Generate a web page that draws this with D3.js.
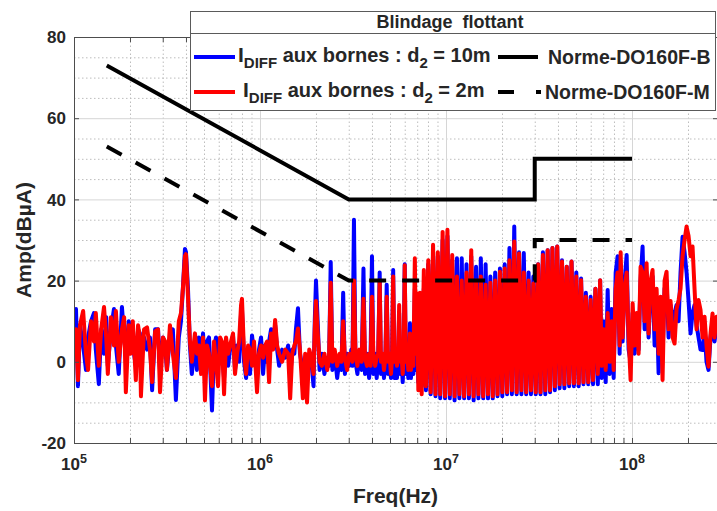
<!DOCTYPE html>
<html><head><meta charset="utf-8">
<script src="https://cdn.jsdelivr.net/npm/d3@7"></script>
<style>
body{margin:0;background:#fff;}
text{font-family:"Liberation Sans",Arial,sans-serif;font-weight:bold;fill:#262626;}
</style>
</head><body>
<svg id="chart" width="717" height="511"></svg>
<script>
// ---------- DATA ----------
// Columns: [frequency (MHz), I_DIFF d2=10m (blue, dBµA), I_DIFF d2=2m (red, dBµA)]
const spectrumLow = [
 [0.100,7,5],[0.1025,13,8],[0.105,-6,-4.5],[0.1077,9,9],[0.112,4,12.5],[0.116,-2,2],[0.119,6,-2],[0.1235,10,10],
 [0.128,12,5],[0.131,3,12],[0.136,-5.5,-1],[0.140,8,8],[0.145,2,13.5],[0.149,11,6],[0.152,-1,-3],[0.158,8,11],
 [0.164,13,4],[0.168,4,12.5],[0.174,-3,0],[0.181,13.5,8],[0.186,6,11],[0.190,2,-7.5],[0.197,10,9],[0.202,5,2],
 [0.207,4,10],[0.215,-1,-4.5],[0.221,8,9],[0.226,7,6],[0.229,0,-8.5],[0.238,6,8],[0.247,3,8.5],[0.256,6,3],
 [0.263,-7,-5],[0.273,8,7.5],[0.283,8,8],[0.290,-2,-7.5],[0.301,6,6],[0.309,4,5],[0.316,-2,-2],[0.328,6,9],
 [0.340,8,2],[0.353,-9.4,-4],[0.366,6,10],[0.376,10,12],[0.385,18,18],[0.395,27.8,26],[0.400,27,26.5],
 [0.410,18,16],[0.420,4,5],[0.430,-3,0]
];
const spectrumMid = [
 [0.447,5,7],[0.458,-2,2],[0.469,6,4],[0.482,1,-3],[0.494,7,6],[0.506,-3,-9.5],[0.519,5,4],[0.532,6,2],
 [0.552,-12,-6],[0.566,3,5],[0.580,6,0],[0.595,-1,-6],[0.610,5,6],[0.625,2,5],[0.641,-4,-8],[0.657,4,6],
 [0.674,-1,2],[0.690,3,4],[0.716,6.5,7],[0.734,-2,-3],[0.753,4,2],[0.772,0,5],[0.791,12,14],[0.800,13,15.5],
 [0.821,0,2],[0.842,-4,-3],[0.863,3,4],[0.884,-3,3],[0.906,6.5,-1],[0.929,2,5],[0.964,-2,-7.5],[0.988,3,2],
 [1.013,6,4],[1.039,-3,1],[1.065,4,4],[1.092,0,5],[1.119,5,-5],[1.147,8,7],[1.176,5,3],[1.206,9,10.3],
 [1.236,3,4],[1.267,-1,2],[1.315,3,0],[1.366,1,3],[1.417,4,2],[1.453,-4,-9],[1.49,3,2],[1.53,2,4],
 [1.56,8,5],[1.60,13.2,8.2],[1.64,2,3],[1.70,-2,-9],[1.75,1,2],[1.79,-1,-10],[1.84,2,3],[1.89,0,1],
 [1.94,-6,-3],[1.97,10,8],[2.00,20,15],[2.05,8,6],[2.09,-2,0]
];
const spectrumHarmonics = [
 [2.15,2,-1],[2.22,-3,2],[2.30,1,-2],[2.35,-1,1],[2.40,24.6,19.5],[2.45,-2,0],[2.52,2,3],[2.60,-4,-1],
 [2.68,1,2],[2.74,-2,0],[2.80,17,10],[2.86,-3,1],[2.94,2,-2],[3.02,-1,2],[3.10,3,1],[3.14,-1,0],
 [3.20,35,20],[3.26,0,2],[3.34,-3,-1],[3.42,2,3],[3.52,-2,0],[3.60,23,15.5],[3.67,-3,1],[3.76,2,-1],
 [3.86,-4,2],[3.93,1,-1],[4.00,26,16],[4.07,-3,2],[4.16,2,-1],[4.24,-4,1],[4.32,1,2],[4.40,22,20],
 [4.47,-3,0],[4.56,1,2],[4.64,-4,-2],[4.72,0,1],[4.80,19,16],[4.88,-3,0],[4.97,0,2],[5.06,-4,-3],
 [5.13,1,1],[5.20,22.6,21],[5.28,-4,0],[5.38,1,2],[5.45,-4,-1],[5.52,0,1],[5.60,12,14],[5.68,-3,0],
 [5.76,1,2],[5.85,-5,-3],[5.92,0,1],[6.00,24,23.8],[6.08,-3,0],[6.18,2,3],[6.27,-4,-2],[6.33,2,1],
 [6.40,9.5,7],[6.48,-4,-2],[6.58,1,3],[6.68,-3,-1],[6.80,18,25.5],[6.90,-2,2],[7.00,4,16.9],[7.10,-5,-7],
 [7.25,8,17],[7.40,-6,-8],[7.60,18,22.6]
];
const spectrumDense = [
 [7.8,-7,-6],[8.03,24,25],[8.27,-8,-7.5],[8.52,27,28.8],[8.78,-8.5,-8],[9.04,26,27],[9.31,-9,-8],[9.59,30,32],
 [9.88,-9,-8.5],[10.18,31,32.5],[10.48,-9,-8],[10.8,25,26.3],[11.12,-9.5,-8.5],[11.45,25.5,21],[11.8,-9,-8],
 [12.15,25.5,20],[12.51,-9,-8.5],[12.89,24,22],[13.28,-9,-8],[13.67,26,27.5],[14.08,-9.5,-8.5],[14.51,23.4,20],
 [14.94,-9,-8],[15.39,25.5,21],[15.85,-9,-8.5],[16.33,24,19],[16.82,-9,-8],[17.32,21,19.5],[17.84,-9,-8.5],
 [18.38,22,20],[18.93,-8.5,-8],[19.5,23,22.2],[20.08,-8.5,-7.5],[20.68,24,23],[21.3,-8,-7.5],[21.94,28,25],
 [22.6,-8,-7],[23.28,33.3,29.6],[23.98,-8,-7.5],[24.7,27,26.7],[25.44,-8,-7],[26.2,26.8,22],[26.99,-8,-7.5],
 [27.8,22,20],[28.63,-8,-7],[29.49,21,19.3],[30.37,-8,-7.5],[31.28,24,24],[32.22,-8,-7.5],[33.19,27,26.3],
 [34.18,-8,-7],[35.21,27.5,27.5],[36.26,-7.5,-7],[37.35,28,28],[38.47,-7,-6],[39.63,28.4,28.4],[40.81,-6.5,-5.5],
 [42.04,25,24.7],[43.3,-6.5,-5.5],[44.6,23.4,23.4],[45.94,-6,-5.3],[47.31,24.7,24.7],[48.73,-6,-5.3],
 [50.19,22,21],[51.7,-6,-5.3],[53.25,20.5,20.1],[54.85,-5.5,-5],[56.49,17,16],[58.19,-5.5,-5],[59.93,16,15.2],
 [61.73,-5.5,-4.5],[63.58,18,18],[65.5,-5.5,-3],[67.4,20,20.1]
];
const spectrumHigh = [
 [68.7,-4,-1],[70.4,10,8],[72.2,-5,-2],[74.0,17.7,12],[75.8,-3,0],[77.7,13,10],[79.7,-4,-2],[81.7,22,18],
 [83.7,26,22],[85.8,2,4],[86.9,24,27],[89.0,5,6],[91.3,20,18],[93.6,26.3,22],[95.9,3,6],[98.3,0,-4.5],
 [100.8,12,14.4],[103.3,2,4],[105.9,10,12],[108.5,3,2],[111.2,20,23.4],[114.0,28.4,22],[116.9,8,10],
 [119.8,22,24.3],[122.8,6,7],[125.9,18,20],[129.0,21,22.6],[132.3,4,8],[135.6,16,18],[139.0,-2.8,2],
 [142.5,14,16],[146.0,2,-4.5],[149.7,18,20],[153.4,20,22.2],[157.3,6,8],[161.2,14,15],[165.3,8.6,6],
 [169.4,12,4.5],[173.6,14,13],[178.0,10,15.2],[182.4,22,18],[187.0,30.8,26],[191.7,27,30],[196.5,22,33.3],
 [201.4,15,31],[206.5,7,26],[211.6,12,28.4],[216.9,14,18],[222.4,9,8],[227.9,6,15.2],[233.6,3,12.8],
 [239.5,2.9,6],[245.5,8,11.1],[251.6,0,4],[257.9,-2,-1.2],[264.4,6,7],[271.0,10,11.9],[277.8,5,6],
 [284.8,9,11.1],[291.9,8,10]
];
// DO-160F limits
const normeBFreqMHz = [0.15, 3, 30, 30, 100];
const normeBAmp     = [73, 40, 40, 50, 50];
const normeMFreqMHz = [0.15, 3, 30, 30, 100];
const normeMAmp     = [53, 20, 20, 30, 30];
// Axes
const xDomainHz = [1e5, 2.9e8];
const yDomain = [-20, 80];
const yTicks = [-20, 0, 20, 40, 60, 80];
const xTickExponents = [5, 6, 7, 8];
const legendTitle = "Blindage  flottant";
const seriesNames = ["aux bornes : d", "Norme-DO160F-B", "Norme-DO160F-M"];

// ---------- CHART ----------
const svg = d3.select("#chart");
const X0 = 74, X1 = 718, Y0 = 37, Y1 = 443;
const x = d3.scaleLog().domain(xDomainHz).range([X0, X1]);
const y = d3.scaleLinear().domain(yDomain).range([Y1, Y0]);

const minorX = [];
xTickExponents.forEach(e => { for (let k = 2; k <= 9; k++) { const v = k * Math.pow(10, e); if (v <= xDomainHz[1]) minorX.push(v); } });
const majorX = xTickExponents.map(e => Math.pow(10, e));
const minorY = d3.range(-15, 80, 5).filter(v => v % 20 !== 0);

// grid
const grid = svg.append("g");
grid.append("g").attr("transform", `translate(0,${Y1})`)
  .call(d3.axisBottom(x).tickValues(minorX).tickSize(-(Y1 - Y0)).tickFormat(""))
  .call(g => { g.select(".domain").remove(); g.selectAll("line").attr("stroke", "#bdbdbd").attr("stroke-dasharray", "1.5,2.5"); });
grid.append("g").attr("transform", `translate(${X0},0)`)
  .call(d3.axisLeft(y).tickValues(minorY).tickSize(-(X1 - X0)).tickFormat(""))
  .call(g => { g.select(".domain").remove(); g.selectAll("line").attr("stroke", "#bdbdbd").attr("stroke-dasharray", "1.5,2.5"); });
grid.append("g").attr("transform", `translate(0,${Y1})`)
  .call(d3.axisBottom(x).tickValues(majorX).tickSize(-(Y1 - Y0)).tickFormat(""))
  .call(g => { g.select(".domain").remove(); g.selectAll("line").attr("stroke", "#d6d6d6"); });
grid.append("g").attr("transform", `translate(${X0},0)`)
  .call(d3.axisLeft(y).tickValues(yTicks).tickSize(-(X1 - X0)).tickFormat(""))
  .call(g => { g.select(".domain").remove(); g.selectAll("line").attr("stroke", "#d6d6d6"); });

// clip
svg.append("clipPath").attr("id", "plotclip").append("rect")
  .attr("x", X0).attr("y", Y0).attr("width", X1 - X0).attr("height", Y1 - Y0);
const plot = svg.append("g").attr("clip-path", "url(#plotclip)");

const spectrum = [].concat(spectrumLow, spectrumMid, spectrumHarmonics, spectrumDense, spectrumHigh);
const lineGen = col => d3.line().x(d => x(d[0] * 1e6)).y(d => y(d[col]));

plot.append("path").datum(spectrum).attr("d", lineGen(1))
  .attr("fill", "none").attr("stroke", "#0000ff").attr("stroke-width", 4).attr("stroke-linejoin", "round").attr("stroke-linecap", "round");
plot.append("path").datum(spectrum).attr("d", lineGen(2))
  .attr("fill", "none").attr("stroke", "#ff0000").attr("stroke-width", 4).attr("stroke-linejoin", "round").attr("stroke-linecap", "round");

const normLine = d3.line().x(d => x(d[0] * 1e6)).y(d => y(d[1]));
const normeB = normeBFreqMHz.map((f, i) => [f, normeBAmp[i]]);
const normeM = normeMFreqMHz.map((f, i) => [f, normeMAmp[i]]);
plot.append("path").datum(normeB).attr("d", normLine)
  .attr("fill", "none").attr("stroke", "#000").attr("stroke-width", 4);
plot.append("path").datum(normeM).attr("d", normLine)
  .attr("fill", "none").attr("stroke", "#000").attr("stroke-width", 4).attr("stroke-dasharray", "17,16");

// axes (box with inward ticks)
const axisColor = "#4d4d4d";
const styleAxis = g => { g.select(".domain").attr("stroke", axisColor); g.selectAll(".tick line").attr("stroke", axisColor); };
svg.append("g").attr("transform", `translate(0,${Y1})`)
  .call(d3.axisBottom(x).tickValues(majorX.concat(minorX)).tickSize(-5).tickSizeOuter(0).tickFormat("")).call(styleAxis);
svg.append("g").attr("transform", `translate(0,${Y0})`)
  .call(d3.axisTop(x).tickValues(majorX.concat(minorX)).tickSize(-5).tickSizeOuter(0).tickFormat("")).call(styleAxis);
svg.append("g").attr("transform", `translate(${X0},0)`)
  .call(d3.axisLeft(y).tickValues(yTicks).tickSize(-5).tickSizeOuter(0).tickFormat("")).call(styleAxis);
svg.append("g").attr("transform", `translate(${X1},0)`)
  .call(d3.axisRight(y).tickValues(yTicks).tickSize(-5).tickSizeOuter(0).tickFormat("")).call(styleAxis);

// tick labels
svg.append("g").selectAll("text").data(yTicks).join("text")
  .attr("x", X0 - 8).attr("y", d => y(d)).attr("dy", "0.36em")
  .attr("text-anchor", "end").attr("font-size", 17).text(d => d);
const xl = svg.append("g").selectAll("text").data(xTickExponents).join("text")
  .attr("x", d => x(Math.pow(10, d))).attr("y", 470)
  .attr("text-anchor", "middle").attr("font-size", 17);
xl.append("tspan").text("10");
xl.append("tspan").attr("dy", -7).attr("font-size", 12.5).text(d => d);

// axis titles
svg.append("text").attr("x", (X0 + 717) / 2).attr("y", 503).attr("text-anchor", "middle")
  .attr("font-size", 21).text("Freq(Hz)");
svg.append("text").attr("transform", "translate(31,240) rotate(-90)").attr("text-anchor", "middle")
  .attr("font-size", 21).text("Amp(dBµA)");

// legend
const lg = svg.append("g");
lg.append("rect").attr("x", 190.5).attr("y", 11.5).attr("width", 525).attr("height", 99)
  .attr("fill", "#fff").attr("stroke", "#5a5a5a").attr("stroke-width", 1);
lg.append("line").attr("x1", 190.5).attr("x2", 715.5).attr("y1", 33.5).attr("y2", 33.5)
  .attr("stroke", "#5a5a5a").attr("stroke-width", 1);
lg.append("text").attr("x", 450).attr("y", 28).attr("text-anchor", "middle")
  .attr("font-size", 18).attr("fill", "#000").style("white-space", "pre").text(legendTitle);

function idiffLabel(xp, yp, dist) {
  const t = lg.append("text").attr("x", xp).attr("y", yp).attr("font-size", 20).attr("fill", "#000").style("white-space", "pre");
  t.append("tspan").attr("font-size", 21).text("I");
  t.append("tspan").attr("font-size", 15).attr("dy", 6).text("DIFF");
  t.append("tspan").attr("dy", -6).text(" " + seriesNames[0]);
  t.append("tspan").attr("font-size", 15).attr("dy", 6).text("2");
  t.append("tspan").attr("dy", -6).text(" = " + dist);
}
lg.append("line").attr("x1", 194).attr("x2", 235).attr("y1", 57).attr("y2", 57).attr("stroke", "#0000ff").attr("stroke-width", 4);
idiffLabel(238, 62, "10m");
lg.append("line").attr("x1", 194).attr("x2", 235).attr("y1", 92).attr("y2", 92).attr("stroke", "#ff0000").attr("stroke-width", 4);
idiffLabel(243, 97, "2m");
lg.append("line").attr("x1", 498).attr("x2", 538).attr("y1", 57).attr("y2", 57).attr("stroke", "#000").attr("stroke-width", 4);
lg.append("text").attr("x", 548).attr("y", 64).attr("font-size", 19.5).attr("fill", "#000").text(seriesNames[1]);
lg.append("line").attr("x1", 498).attr("x2", 541).attr("y1", 92).attr("y2", 92).attr("stroke", "#000").attr("stroke-width", 4).attr("stroke-dasharray", "16,22");
lg.append("text").attr("x", 545).attr("y", 99).attr("font-size", 19.5).attr("fill", "#000").text(seriesNames[2]);
</script>
</body></html>
